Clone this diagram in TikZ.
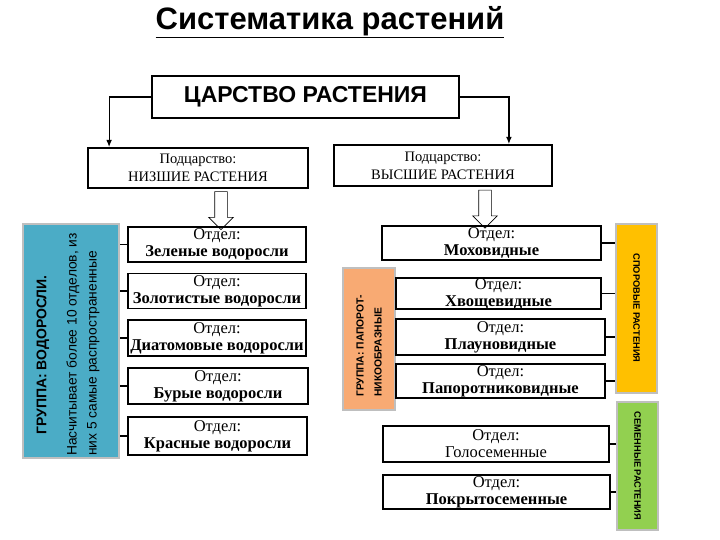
\documentclass[tikz,border=0pt]{standalone}
\usepackage{fontspec}
\setmainfont{Liberation Serif}
\setsansfont{Liberation Sans}
\usepackage{xcolor}
\usepackage{tikz}
\usetikzlibrary{arrows.meta, shapes.arrows, positioning}

\definecolor{algaeblue}{RGB}{75,172,198}
\definecolor{fernorange}{RGB}{248,170,115}
\definecolor{sporeyellow}{RGB}{255,192,0}
\definecolor{seedgreen}{RGB}{146,208,80}

\begin{document}
\begin{tikzpicture}[
    x=1pt, y=-1pt,
    kbox/.style   = {rectangle, draw=black, line width=1.8pt, inner sep=0pt,
                     font=\sffamily\bfseries\fontsize{23}{26}\selectfont},
    sbox/.style   = {rectangle, draw=black, line width=1.8pt, inner sep=0pt,
                     align=center, font=\fontsize{14.5}{18}\selectfont},
    dbox/.style   = {rectangle, draw=black, line width=1.8pt, inner sep=0pt,
                     align=center, font=\fontsize{16.5}{17}\selectfont},
    panel/.style  = {rectangle, draw=black!25, line width=1.5pt, inner sep=0pt},
    ptext/.style  = {inner sep=0pt, font=\sffamily\bfseries\fontsize{9.3}{18}\selectfont},
    conn/.style   = {line width=1.2pt},
    arr/.style    = {conn, -{Latex[length=2.5mm, width=2mm]}},
    hollow/.style = {single arrow, draw=black, fill=white, line width=0.6pt,
                     minimum width=24pt, minimum height=38pt, inner sep=6pt,
                     single arrow head extend=6pt, shape border rotate=270}
  ]
  \useasboundingbox (0,0) rectangle (720,540);

  % title
  \node[font=\sffamily\bfseries\fontsize{31}{34}\selectfont] (title) at (330,22)
    {\underline{Систематика растений}};

  % kingdom and subkingdoms
  \node[kbox, minimum width=307pt, minimum height=42pt] (kingdom) at (305.5,97)
    {ЦАРСТВО РАСТЕНИЯ};
  \node[sbox, minimum width=220pt, minimum height=40pt] (lower) at (198,168)
    {Подцарство:\\НИЗШИЕ РАСТЕНИЯ};
  \node[sbox, minimum width=218pt, minimum height=41pt] (higher) at (443,165.5)
    {Подцарство:\\ВЫСШИЕ РАСТЕНИЯ};

  \draw[arr] (kingdom.west) -| ([xshift=22pt]lower.north west);
  \draw[arr] (kingdom.east) -| ([xshift=-44pt]higher.north east);

  \node[hollow] (downL) at (221,207.5) {};
  \node[hollow] (downR) at (485,206) {};

  % algae group
  \node[panel, fill=algaeblue, minimum width=96pt, minimum height=234pt] (algae) at (71,341) {};
  \node[rotate=90, inner sep=0pt, font=\sffamily\bfseries\fontsize{14}{16}\selectfont]
    (algaetitle) at (43,355) {ГРУППА: ВОДОРОСЛИ.};
  \node[rotate=90, anchor=west, align=left, inner sep=0pt,
        font=\sffamily\fontsize{13.8}{20}\selectfont]
    (algaenote) at (83,456) {Насчитывает более 10 отделов, из\\них 5 самые распространенные};

  \node[dbox, minimum width=178pt, minimum height=35pt] (green) at (217,244.5)
    {Отдел:\\\textbf{Зеленые водоросли}};
  \node[dbox, minimum width=178pt, minimum height=35pt] (golden) at (217,291)
    {Отдел:\\\textbf{Золотистые водоросли}};
  \node[dbox, minimum width=178pt, minimum height=36pt] (diatom) at (217,338)
    {Отдел:\\\textbf{Диатомовые водоросли}};
  \node[dbox, minimum width=180pt, minimum height=36pt] (brown) at (218,386)
    {Отдел:\\\textbf{Бурые водоросли}};
  \node[dbox, minimum width=179pt, minimum height=38pt] (red) at (217.5,436)
    {Отдел:\\\textbf{Красные водоросли}};

  \foreach \d in {green, golden, diatom, brown, red}
    \draw[conn] (\d.west) -- (\d.west -| algae.east);

  % higher plants
  \node[panel, fill=fernorange, minimum width=52pt, minimum height=142pt] (ferns) at (369,339) {};
  \node[ptext, rotate=90, anchor=west, align=left, font=\sffamily\bfseries\fontsize{10.3}{18}\selectfont]
    (fernstext) at (369,397) {ГРУППА: ПАПОРОТ-\\НИКООБРАЗНЫЕ};
  \node[panel, fill=sporeyellow, minimum width=41pt, minimum height=169pt] (spore) at (636.5,308.5) {};
  \node[ptext, rotate=-90] (sporetext) at (636.5,308) {СПОРОВЫЕ РАСТЕНИЯ};
  \node[panel, fill=seedgreen, minimum width=41pt, minimum height=128pt] (seed) at (637.5,466) {};
  \node[ptext, rotate=-90] (seedtext) at (637.5,466) {СЕМЕННЫЕ РАСТЕНИЯ};

  \node[dbox, minimum width=219pt, minimum height=34pt] (moss) at (491.5,243)
    {Отдел:\\\textbf{Моховидные}};
  \node[dbox, minimum width=205pt, minimum height=31pt] (horsetail) at (498.5,293.5)
    {Отдел:\\\textbf{Хвощевидные}};
  \node[dbox, minimum width=209pt, minimum height=36pt] (clubmoss) at (500.5,337)
    {Отдел:\\\textbf{Плауновидные}};
  \node[dbox, minimum width=209pt, minimum height=34pt] (fern) at (500.5,381)
    {Отдел:\\\textbf{Папоротниковидные}};
  \node[dbox, minimum width=226pt, minimum height=36pt] (gymno) at (496,444)
    {Отдел:\\Голосеменные};
  \node[dbox, minimum width=227pt, minimum height=34pt] (angio) at (496.5,492)
    {Отдел:\\\textbf{Покрытосеменные}};

  \foreach \d in {moss, horsetail, clubmoss, fern}
    \draw[conn] (\d.east) -- (\d.east -| spore.west);
  \foreach \d in {gymno, angio}
    \draw[conn] (\d.east) -- (\d.east -| seed.west);
\end{tikzpicture}
\end{document}
